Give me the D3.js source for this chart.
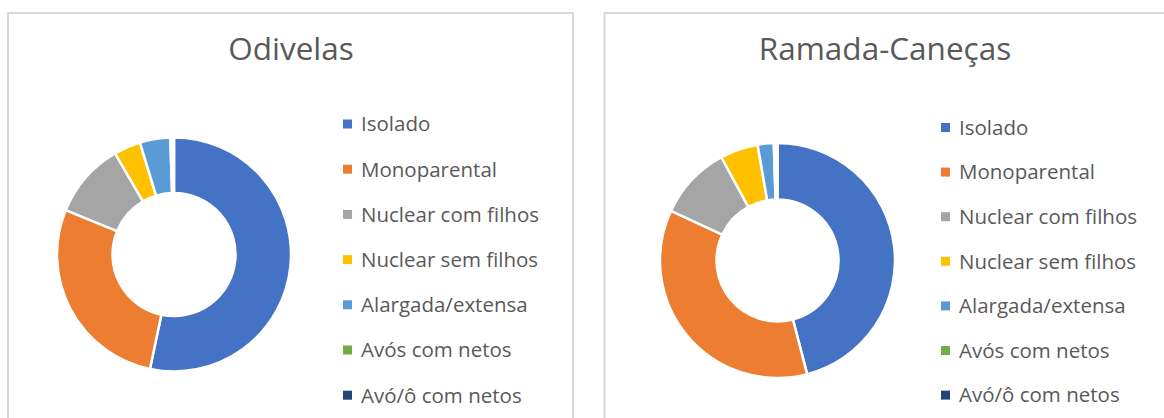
<!DOCTYPE html>
<html>
<head>
<meta charset="utf-8">
<script src="https://cdn.jsdelivr.net/npm/d3@7"></script>
<style>
  body { margin: 0; background: #fff; }
  svg text { font-family: "Open Sans", sans-serif; fill: #595959; }
</style>
</head>
<body>
<div id="chart"></div>
<script>
var categories = ["Isolado", "Monoparental", "Nuclear com filhos", "Nuclear sem filhos",
  "Alargada/extensa", "Avós com netos", "Avó/ô com netos"];
var colors = ["#4472C4", "#ED7D31", "#A5A5A5", "#FFC000", "#5B9BD5", "#70AD47", "#264478"];

// percentages
var odivelas = [53.3, 27.9, 10.4, 3.7, 4.2, 0.3, 0.2];
var ramadaCanecas = [45.8, 35.9, 10.1, 5.2, 2.2, 0.3, 0.2];

var titles = ["Odivelas", "Ramada-Caneças"];

var width = 1164, height = 418;

var svg = d3.select("#chart").append("svg")
  .attr("width", width)
  .attr("height", height);

var panels = [
  { title: titles[0], values: odivelas, frameX: 8, frameW: 565, cx: 174, cy: 254.5, R: 117, r: 61.5,
    titleX: 291, legX: 343, legY: 124, legStep: 45.2 },
  { title: titles[1], values: ramadaCanecas, frameX: 604.5, frameW: 600, cx: 777.5, cy: 260.5, R: 117.5, r: 61,
    titleX: 885, legX: 941, legY: 127.5, legStep: 44.6 }
];

var color = d3.scaleOrdinal().domain(categories).range(colors);

var pie = d3.pie()
  .sort(null)
  .value(function (d) { return d[1]; });

panels.forEach(function (p) {
  svg.append("rect")
    .attr("x", p.frameX)
    .attr("y", 13)
    .attr("width", p.frameW)
    .attr("height", 440)
    .attr("fill", "none")
    .attr("stroke", "#d9d9d9")
    .attr("stroke-width", 2);

  svg.append("text")
    .attr("x", p.titleX)
    .attr("y", 60)
    .attr("text-anchor", "middle")
    .style("font-size", "31.5px")
    .text(p.title);

  var data = categories.map(function (c, i) { return [c, p.values[i]]; });

  var arc = d3.arc()
    .innerRadius(p.r)
    .outerRadius(p.R);

  var g = svg.append("g")
    .attr("transform", "translate(" + p.cx + "," + p.cy + ")");

  g.selectAll(".slice")
    .data(pie(data))
    .enter().append("path")
    .attr("class", "slice")
    .attr("d", arc)
    .attr("fill", function (d) { return color(d.data[0]); })
    .attr("stroke", "#fff")
    .attr("stroke-width", 2.5)
    .attr("stroke-linejoin", "round");

  var y = d3.scalePoint()
    .domain(categories)
    .range([p.legY, p.legY + p.legStep * (categories.length - 1)]);

  var leg = svg.append("g").attr("class", "legend");

  leg.selectAll("rect")
    .data(categories)
    .enter().append("rect")
    .attr("x", p.legX)
    .attr("y", function (d) { return y(d) - 4.5; })
    .attr("width", 9)
    .attr("height", 9)
    .attr("fill", function (d) { return color(d); });

  leg.selectAll("text")
    .data(categories)
    .enter().append("text")
    .attr("x", p.legX + 18)
    .attr("y", function (d) { return y(d); })
    .attr("dy", "0.36em")
    .style("font-size", "20.5px")
    .text(function (d) { return d; });
});
</script>
</body>
</html>
